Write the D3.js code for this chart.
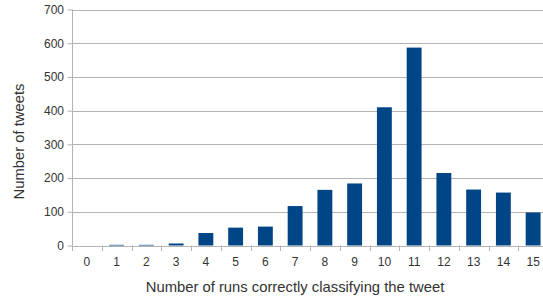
<!DOCTYPE html>
<html><head><meta charset="utf-8">
<script src="https://cdn.jsdelivr.net/npm/d3@7/dist/d3.min.js"></script>
<style>body{margin:0;background:#fff}svg{display:block}</style>
</head><body><svg id="c" width="543" height="296"></svg>
<script>
const categories = ["0","1","2","3","4","5","6","7","8","9","10","11","12","13","14","15"];
const tweetCounts = [0,2,2,6,37,53,56,117,165,184,410,587,215,166,157,98];
const yTicks = [0,100,200,300,400,500,600,700];

(function(){
const svg = d3.select("#c");
const mL = 72, mR = 548, mT = 9.5, mB = 245.5;
const x = d3.scaleBand().domain(categories).range([mL, mR]).paddingInner(0).paddingOuter(0);
const y = d3.scaleLinear().domain([0,700]).range([mB, mT]);
const tickFont = "12px 'Liberation Sans', Arial, sans-serif";
const titleFont = "14.8px 'Liberation Sans', Arial, sans-serif";

// gridlines
svg.append("g").selectAll("line").data(yTicks.filter(d=>d>0)).join("line")
  .attr("x1", mL).attr("x2", mR)
  .attr("y1", d=>Math.round(y(d))+0.5).attr("y2", d=>Math.round(y(d))+0.5)
  .attr("stroke", "#b3b3b3").attr("stroke-width", 1);

// bars
const bw = x.bandwidth()*0.5;
svg.append("g").selectAll("rect").data(categories).join("rect")
  .attr("x", (d)=>x(d)+x.bandwidth()/2-bw/2)
  .attr("width", bw)
  .attr("y", (d,i)=>y(tweetCounts[i]))
  .attr("height", (d,i)=>mB-y(tweetCounts[i]))
  .attr("fill", "#004586");

// y axis
const ya = svg.append("g").attr("transform", `translate(${mL+0.5},0)`)
  .call(d3.axisLeft(y).tickValues(yTicks).tickSize(5).tickPadding(3.5).tickFormat(d3.format("d")));
ya.select(".domain").attr("stroke","#b3b3b3").attr("d", `M0,${mT}V${mB}`);
ya.selectAll(".tick line").attr("stroke","#b3b3b3");
ya.selectAll(".tick text").attr("fill","#333").style("font",tickFont);

// x axis
const xa = svg.append("g").attr("transform", `translate(0,${Math.round(mB)+0.5})`)
  .call(d3.axisBottom(x).tickSize(0).tickPadding(11));
xa.select(".domain").attr("stroke","#b3b3b3").attr("d", `M${mL},0H${mR}`);
xa.selectAll(".tick text").attr("fill","#333").style("font",tickFont);
// boundary tick marks between categories
svg.append("g").selectAll("line").data(categories).join("line")
  .attr("x1", d=>Math.round(x(d))+0.5).attr("x2", d=>Math.round(x(d))+0.5)
  .attr("y1", mB).attr("y2", mB+5.5)
  .attr("stroke","#b3b3b3");

// axis titles
svg.append("text").attr("x", 295).attr("y", 292).attr("text-anchor","middle")
  .attr("fill","#333").style("font",titleFont)
  .text("Number of runs correctly classifying the tweet");
svg.append("text").attr("transform","translate(24,141.5) rotate(-90)").attr("text-anchor","middle")
  .attr("fill","#333").style("font",titleFont)
  .text("Number of tweets");
})();
</script></body></html>
